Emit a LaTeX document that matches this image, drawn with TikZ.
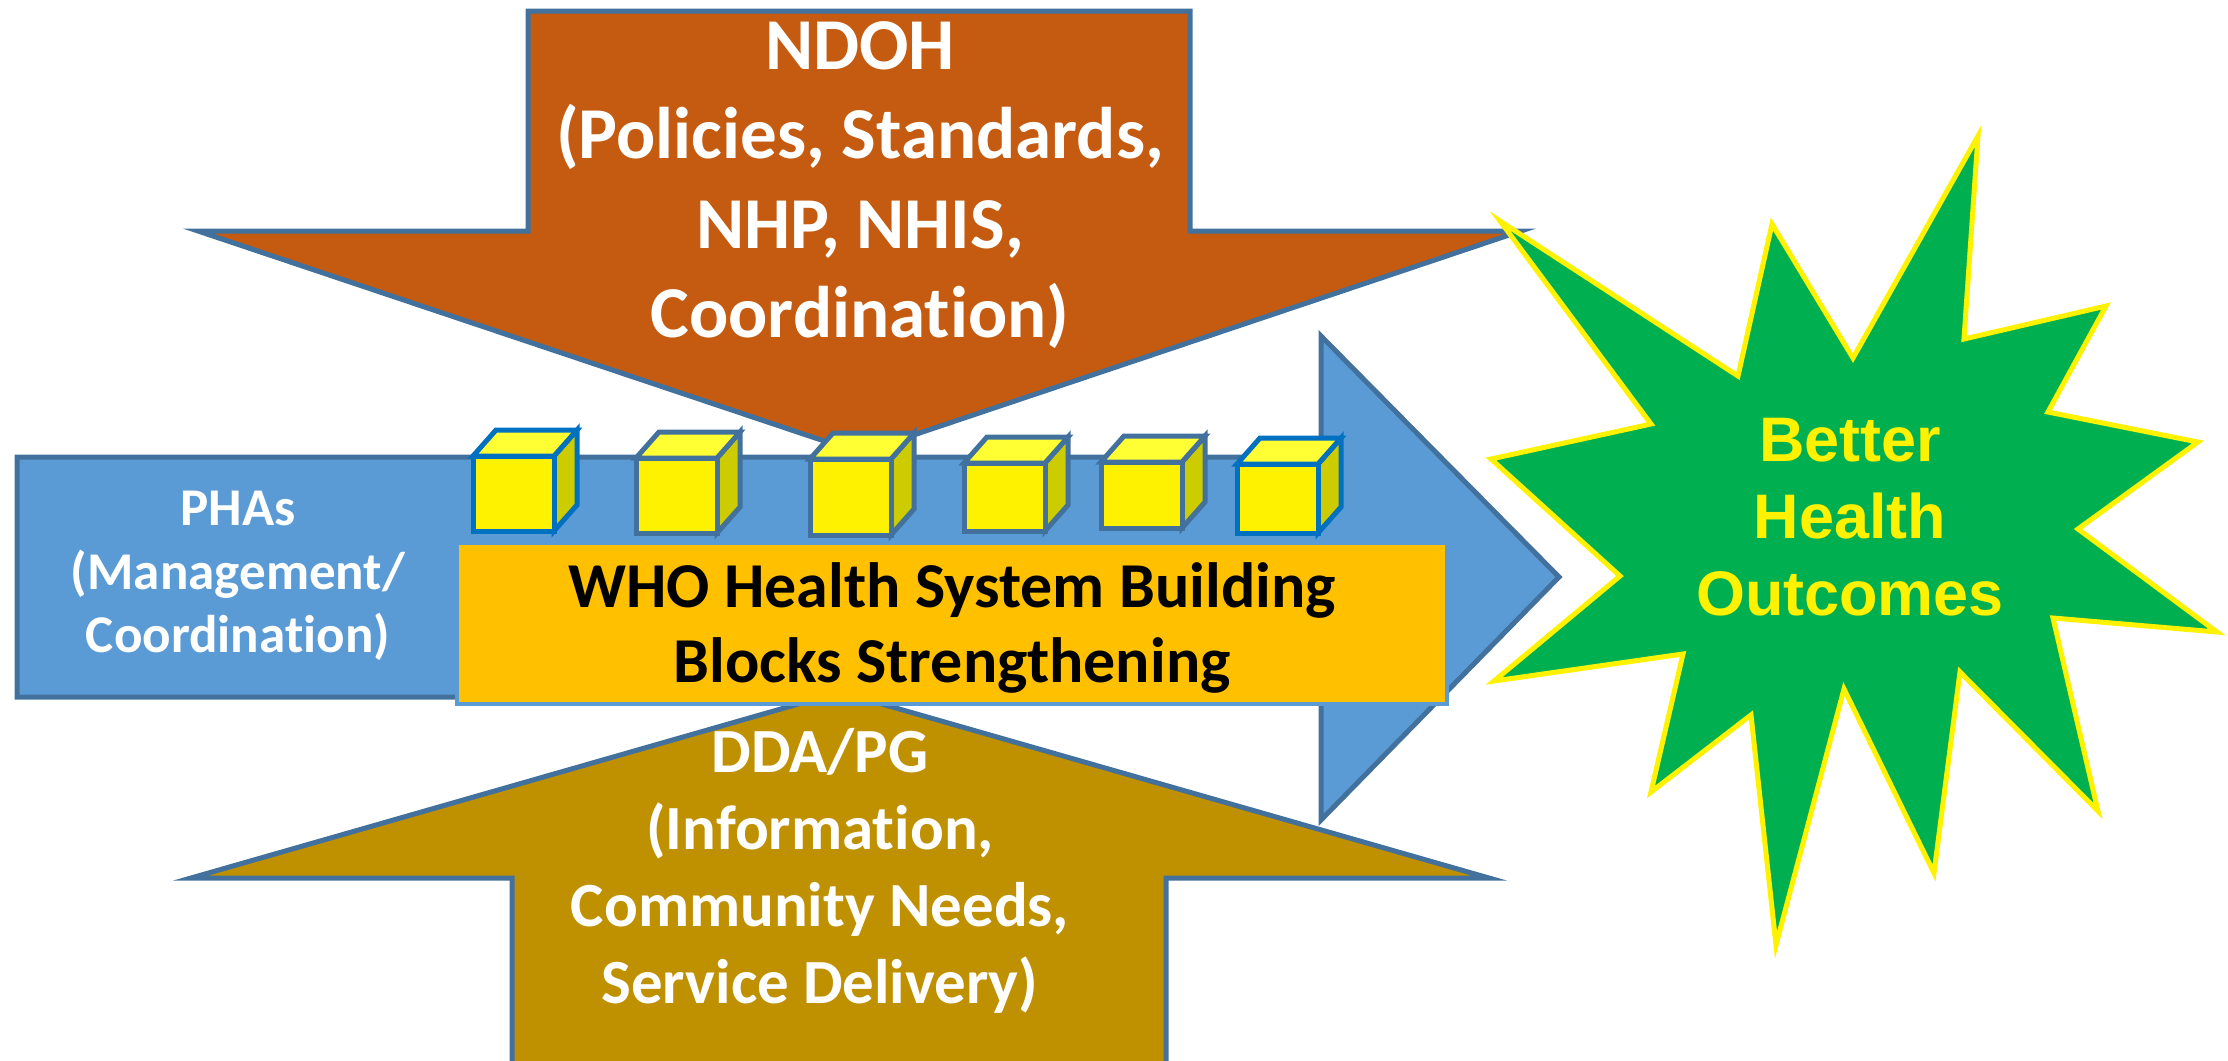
\documentclass[tikz,border=0pt]{standalone}
\usepackage{fontspec}
\setmainfont[Ligatures=NoCommon]{Carlito}
\newfontfamily\arialfont{Liberation Sans}
\definecolor{shaftblue}{HTML}{5B9BD5}
\definecolor{edgeblue}{HTML}{41719C}
\definecolor{boxblue}{HTML}{0070C0}
\definecolor{ndohbrown}{HTML}{C55A11}
\definecolor{ddagold}{HTML}{BF9000}
\definecolor{whoorange}{HTML}{FFC000}
\definecolor{stargreen}{HTML}{00B050}
\definecolor{cubetop}{HTML}{FFFF33}
\definecolor{cubeside}{HTML}{CCCC00}

\begin{document}
\begin{tikzpicture}[x=0.1mm,y=-0.1mm,
  bigarrow/.style={fill=#1,draw=edgeblue,line width=0.5mm,line join=miter},
  cube/.style={line width=0.5mm,line join=miter},
  label/.style={text=white,align=center,inner sep=0pt,font=\bfseries#1}]
\useasboundingbox (0,0) rectangle (2228,1060);

\draw[bigarrow=shaftblue] (17,457) -- (1321,457) -- (1321,336) -- (1559,577) -- (1321,820) -- (1321,697) -- (17,697) -- cycle;
\draw[bigarrow=ndohbrown] (528,11) -- (1190,11) -- (1190,231) -- (1521,231) -- (860,453) -- (198,231) -- (528,231) -- cycle;
\draw[bigarrow=ddagold] (512,1070) -- (512,878) -- (191,878) -- (840,692) -- (1489,878) -- (1166,878) -- (1166,1070) -- cycle;
\draw[fill=whoorange,draw=shaftblue,line width=0.4mm] (457,543) rectangle (1447,704);

\foreach \x/\t/\b/\c in {473/456/531/boxblue,636/458/533/edgeblue,810/459/535/edgeblue,964/463/531/edgeblue,1101/462/528/edgeblue,1237/464/533/boxblue}{
  \filldraw[cube,fill=cubeside,draw=\c] (\x+81,\t) -- ++(23,-26) -- ++(0,\b-\t) -- (\x+81,\b) -- cycle;
  \filldraw[cube,fill=cubetop,draw=\c] (\x,\t) -- ++(23,-26) -- ++(81,0) -- (\x+81,\t) -- cycle;
  \filldraw[cube,fill=yellow,draw=\c] (\x,\t) rectangle (\x+81,\b);
}

\draw[fill=stargreen,draw=yellow,line width=0.5mm,line join=miter] (1500,221) -- (1651,424) -- (1491,459) -- (1620,576) -- (1494,681) -- (1683,654) -- (1651,792) -- (1751,715) -- (1776,945) -- (1844,689) -- (1934,873) -- (1960,672) -- (2098,811) -- (2053,618) -- (2217,632) -- (2078,529) -- (2198,442) -- (2048,412) -- (2106,306) -- (1964,339) -- (1978,136) -- (1853,358) -- (1772,224) -- (1738,376) -- cycle;

\node[label={\fontsize{20.8}{25.5}\selectfont}] (ndoh) at (860,185) {NDOH\\(Policies, Standards,\\NHP, NHIS,\\Coordination)};
\node[label={\fontsize{15.1}{18.1}\selectfont}] (phas) at (238,576) {PHAs\\(Management/\\Coordination)};
\node[label={\fontsize{18.2}{21.6}\selectfont},text=black] (who) at (952,628) {WHO Health System Building\\Blocks Strengthening};
\node[label={\fontsize{17.9}{21.9}\selectfont}] (dda) at (820,871) {DDA/PG\\(Information,\\Community Needs,\\Service Delivery)};
\node[label={\arialfont\fontsize{17.9}{21.9}\selectfont},text=yellow] (outcomes) at (1850,517) {Better\\Health\\Outcomes};
\end{tikzpicture}
\end{document}
